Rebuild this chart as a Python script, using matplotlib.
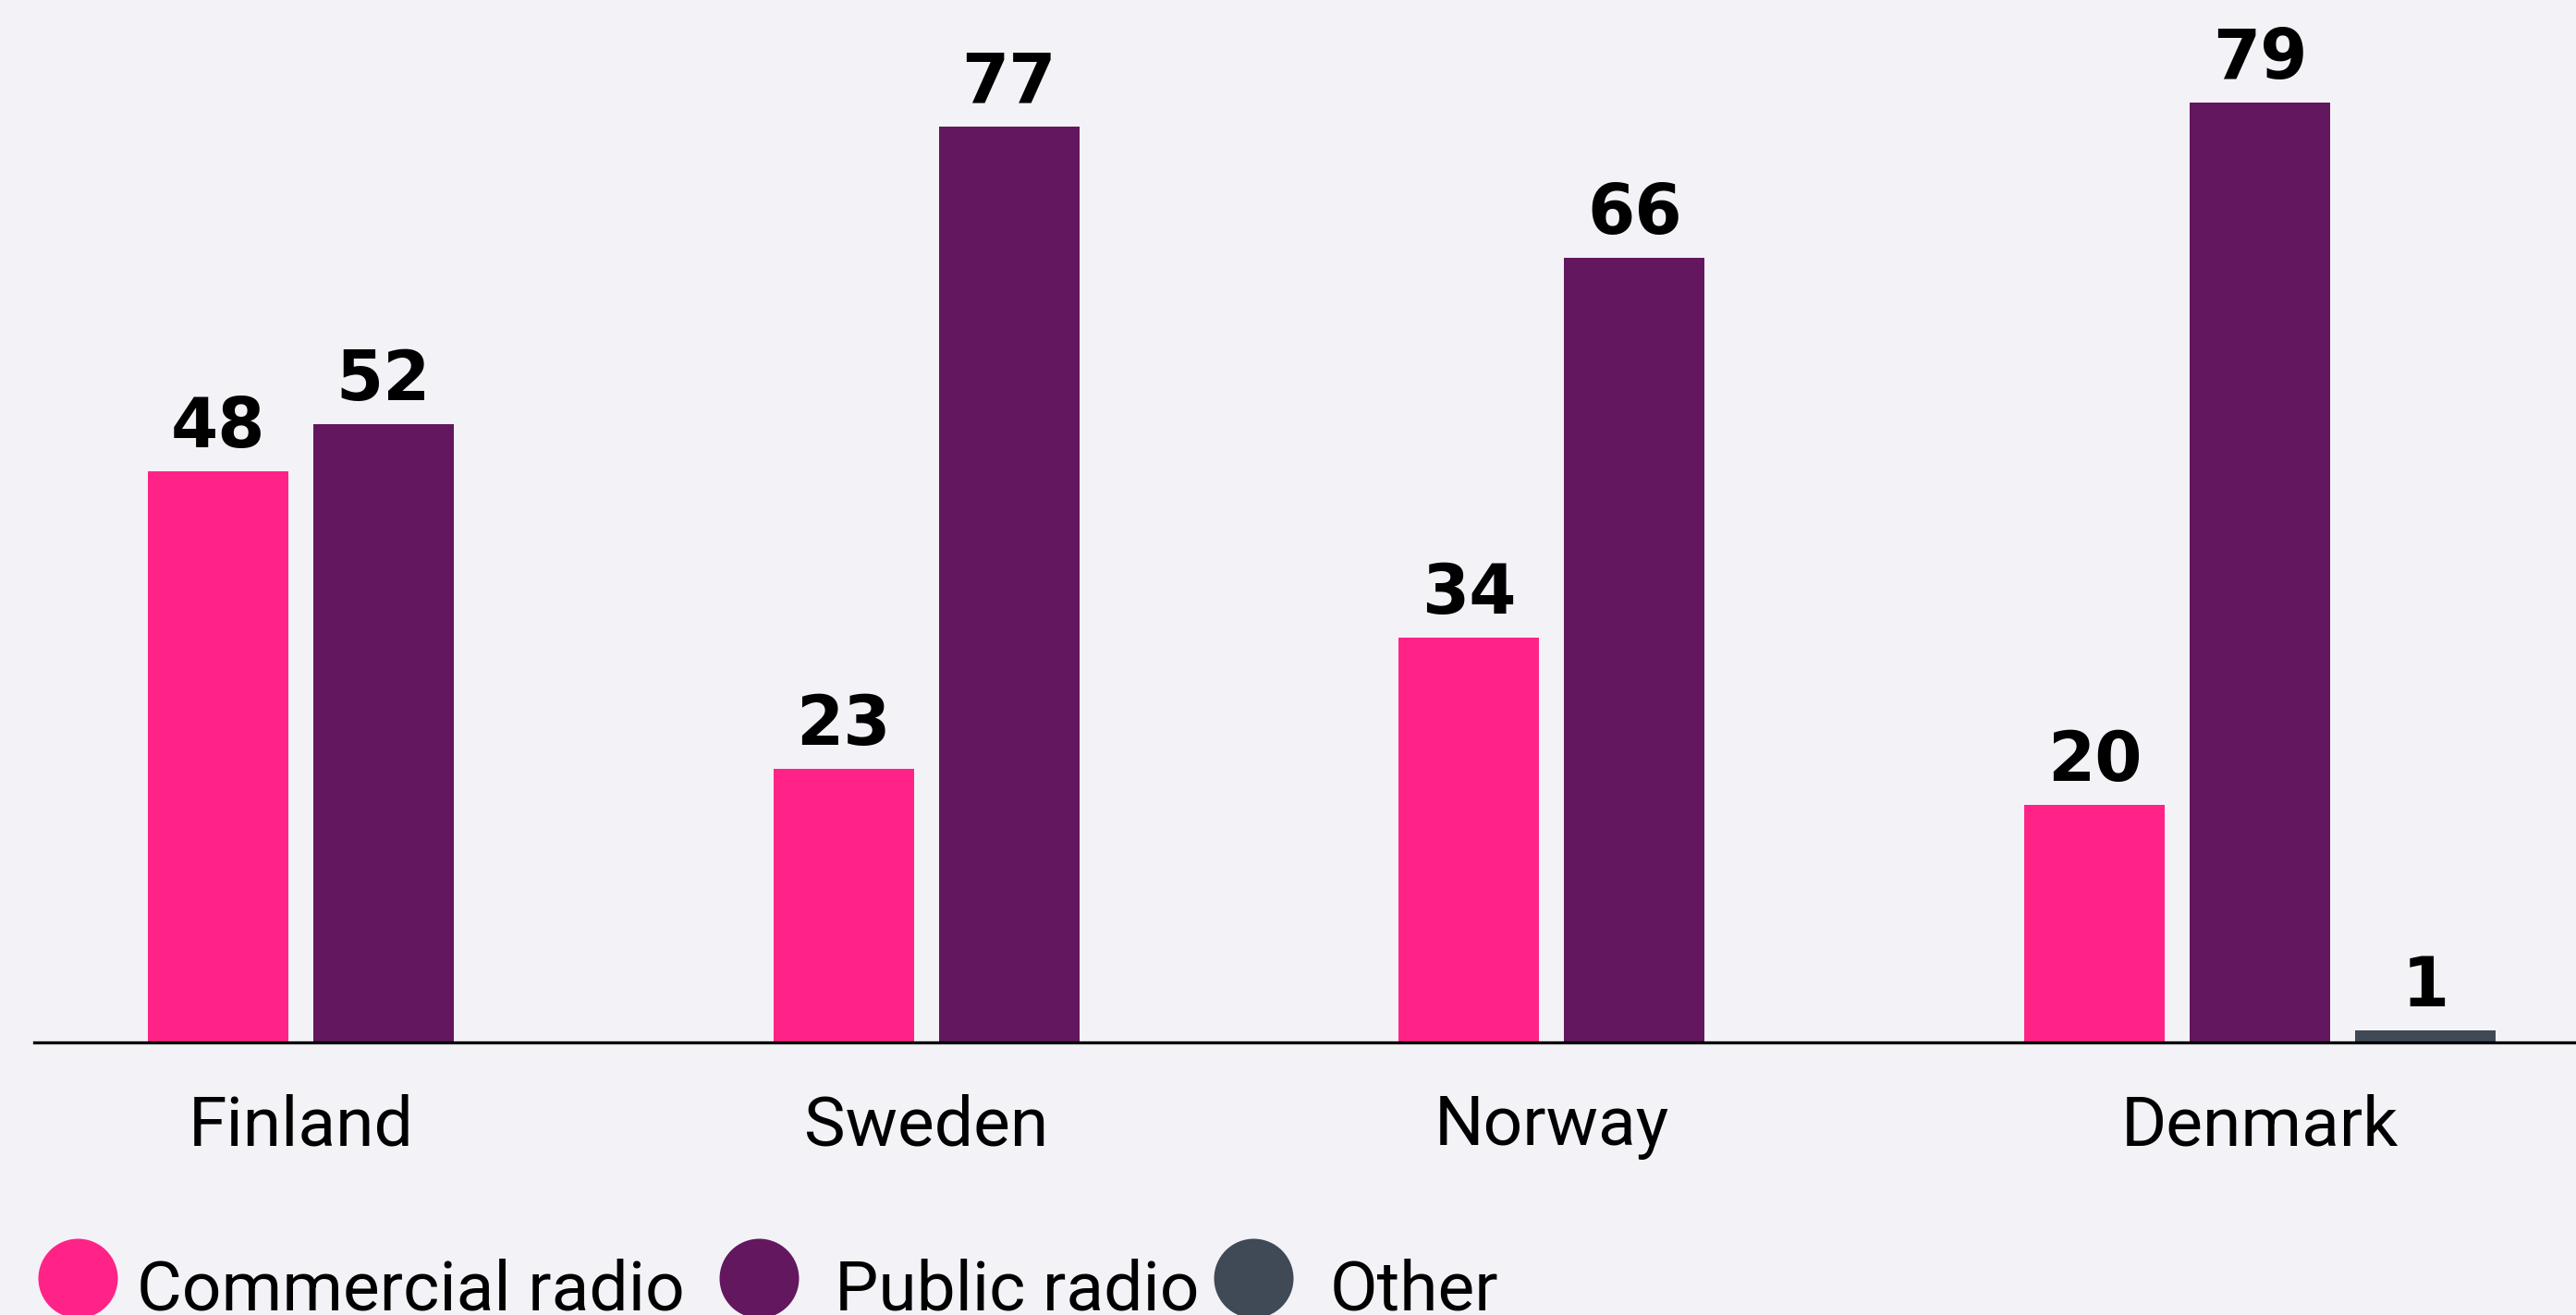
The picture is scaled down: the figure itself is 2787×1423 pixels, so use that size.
import matplotlib.pyplot as plt

countries = ["Finland", "Sweden", "Norway", "Denmark"]
series = ["Commercial radio", "Public radio", "Other"]
commercial = [48, 23, 34, 20]
public = [52, 77, 66, 79]
other = [None, None, None, 1]

colors = ["#ff2388", "#62175e", "#3f4a56"]
bg = "#f3f2f7"

fig = plt.figure(figsize=(27.87, 14.2399), dpi=100, facecolor=bg)
ax = fig.add_axes([0, 0, 1, 1], facecolor=bg)

width = 0.2246
step = 0.2645

for i, country in enumerate(countries):
    vals = [commercial[i], public[i], other[i]]
    present = [j for j, v in enumerate(vals) if v is not None]
    for j in present:
        x = i + j * step + width / 2
        ax.bar(x, vals[j], width, color=colors[j], zorder=2)
        ax.text(x, vals[j] + 2.1, str(vals[j]), ha="center", va="baseline",
                fontsize=53, fontweight="bold", family="DejaVu Sans", color="black")
    # country name under the middle of its bars
    cx = i + (len(present) - 1) * step / 2 + width / 2
    ax.text(cx, -8.55, country, ha="center", va="baseline",
            fontsize=54, family="Roboto", color="black")

ax.axhline(0, xmin=37 / 2787, xmax=1, color="black", lw=2.4, zorder=3)

ax.set_xlim(-160 / 676.7, (2787 - 160) / 676.7)
ax.set_ylim(-1424 / 12.87 + 1129 / 12.87, 1129 / 12.87)
ax.axis("off")

# legend: dots with labels along the bottom edge
dot_x = [84, 821, 1356]
text_x = [148, 903, 1439]
for k, name in enumerate(series):
    ax.scatter(dot_x[k] / 2787, (1424 - 1384) / 1424, s=3832, color=colors[k],
               transform=ax.transAxes, clip_on=False, linewidths=0, zorder=4)
    ax.text(text_x[k] / 2787, (1424 - 1418) / 1424, name, transform=ax.transAxes,
            ha="left", va="baseline", fontsize=54, family="Roboto", color="black")

fig.savefig("out.png", dpi=100, facecolor=bg)
